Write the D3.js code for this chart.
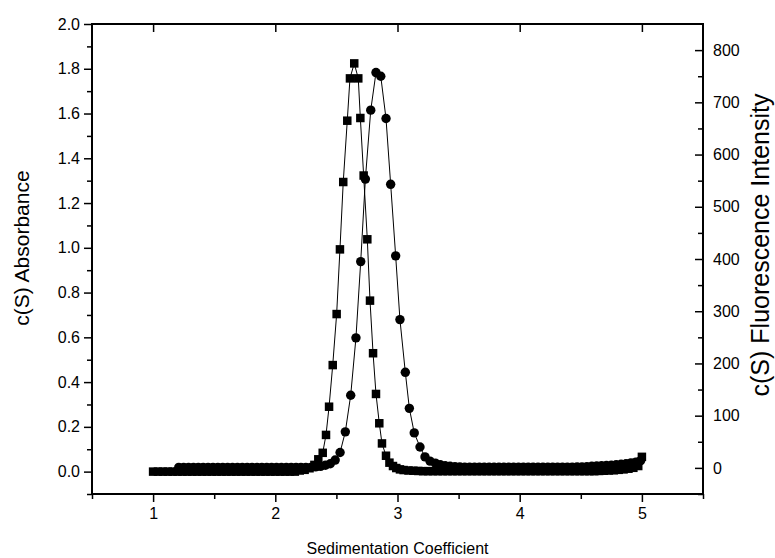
<!DOCTYPE html>
<html><head><meta charset="utf-8">
<script src="https://cdn.jsdelivr.net/npm/d3@7"></script>
<style>
html,body{margin:0;padding:0;background:#fff;}
svg{display:block;font-family:"Liberation Sans",Arial,Helvetica,sans-serif;}
</style></head>
<body><svg id="c" width="775" height="558"></svg>
<script>
// ---- data ----
const xTicks = [1, 2, 3, 4, 5];
const xMinor = [0.5, 1.5, 2.5, 3.5, 4.5, 5.5];
const leftTicks = [0, 0.2, 0.4, 0.6, 0.8, 1.0, 1.2, 1.4, 1.6, 1.8, 2.0];
const leftMinor = [-0.1, 0.1, 0.3, 0.5, 0.7, 0.9, 1.1, 1.3, 1.5, 1.7, 1.9];
const rightTicks = [0, 100, 200, 300, 400, 500, 600, 700, 800];
const rightMinor = [-50, 50, 150, 250, 350, 450, 550, 650, 750];

// c(S) absorbance (squares, left axis)
const absS = [
 1.00,1.04,1.08,1.12,1.16,1.20,1.24,1.28,1.32,1.36,1.40,1.44,1.48,1.52,1.56,1.60,1.64,1.68,1.72,1.76,
 1.80,1.84,1.88,1.92,1.96,2.00,2.04,2.08,2.12,2.16,2.20,2.24,2.28,2.32,
 2.352,2.388,2.415,2.440,2.470,2.502,2.529,2.556,2.589,2.611,2.646,2.679,2.696,2.723,2.753,2.775,
 2.800,2.824,2.851,2.873,2.906,2.934,2.963,2.990,3.020,3.050,
 3.09,3.13,3.17,3.21,3.25,3.29,3.33,3.37,3.41,3.45,3.49,3.53,3.57,3.61,3.65,3.69,3.73,3.77,3.81,3.85,
 3.89,3.93,3.97,4.01,4.05,4.09,4.13,4.17,4.21,4.25,4.29,4.33,4.37,4.41,4.45,4.49,4.53,4.57,4.61,4.65,
 4.69,4.73,4.77,4.81,4.85,4.89,4.93,4.97,5.00];
const absA = [
 0,0,0,0,0,0,0,0,0,0,0,0,0,0,0,0,0,0,0,0,
 0,0,0,0,0,0,0,0,0,0,0.005,0.008,0.015,0.03,
 0.055,0.084,0.164,0.290,0.476,0.704,0.993,1.294,1.568,1.757,1.824,1.757,1.580,1.323,1.038,0.764,
 0.529,0.347,0.216,0.126,0.071,0.040,0.025,0.016,0.010,0.007,
 0.005,0.004,0.003,0.002,0.002,0.002,0.002,0.002,0.002,0.002,0.002,0.002,0.002,0.002,0.002,0.002,0.002,0.002,0.002,0.002,
 0.002,0.002,0.002,0.002,0.002,0.002,0.002,0.002,0.002,0.002,0.002,0.002,0.002,0.002,0.002,0.002,0.002,0.002,0.002,0.003,
 0.004,0.005,0.006,0.008,0.010,0.013,0.017,0.025,0.066];

// c(S) fluorescence intensity (circles, right axis)
const fluS = [
 1.21,1.25,1.29,1.33,1.37,1.41,1.45,1.49,1.53,1.57,1.61,1.65,1.69,1.73,1.77,1.81,1.85,1.89,1.93,1.97,
 2.01,2.05,2.09,2.13,2.17,2.21,2.25,2.29,2.33,2.37,2.41,2.45,
 2.49,2.53,2.573,2.617,2.660,2.699,2.737,2.781,2.824,2.863,2.906,2.944,2.985,3.020,3.064,3.097,3.137,3.184,3.225,3.266,
 3.31,3.35,3.39,3.43,3.47,3.51,3.55,3.59,3.63,3.67,3.71,3.75,3.79,3.83,3.87,3.91,3.95,3.99,4.03,4.07,
 4.11,4.15,4.19,4.23,4.27,4.31,4.35,4.39,4.43,4.47,4.51,4.55,4.59,4.63,4.67,4.71,4.75,4.79,4.83,4.87,
 4.91,4.95,4.99];
const fluV = [
 1,1,1,1,1,1,1,1,1,1,1,1,1,1,1,1,1,1,1,1,
 1,1,1,1,1,1,1,1,2,3,5,8,
 15,29.5,69,139,249,395,553,685,757,750,669,543,406,284,183,114,67,40,21,13,
 9,6,4,3,2.5,2,1.5,1.5,1.5,1.5,1.5,1.5,1.5,1.5,1.5,1.5,1.5,1.5,1.5,1.5,
 1.5,1.5,1.5,1.5,1.5,1.5,1.5,1.5,1.5,2,2,2.5,3,3.5,4,4.5,5,6,7,8,
 9.5,11,14];

// ---- layout ----
const L = 92, R = 703, T = 24, B = 494;
const svg = d3.select("#c");
const x = d3.scaleLinear().domain([0.5, 5.5]).range([L, R]);
const yL = d3.scaleLinear().domain([-0.1, 2.0]).range([B, T]);
const yR = d3.scaleLinear().domain([-50, 850]).range([B, T]);

const absData = absS.map((s, i) => ({s, v: absA[i]}));
const fluData = fluS.map((s, i) => ({s, v: fluV[i]}));

function styleAxis(g, labels) {
  g.select(".domain").remove();
  g.selectAll(".tick line").attr("stroke", "#000").attr("stroke-width", 1.5);
  g.selectAll(".tick text").attr("fill", "#000").style("font-size", "16px");
  if (!labels) g.selectAll(".tick text").remove();
}

// bottom
svg.append("g").attr("transform", `translate(0,${B})`)
  .call(d3.axisBottom(x).tickValues(xTicks).tickSize(8).tickPadding(6).tickFormat(d3.format("d")))
  .call(g => styleAxis(g, true));
svg.append("g").attr("transform", `translate(0,${B})`)
  .call(d3.axisBottom(x).tickValues(xMinor).tickSize(5))
  .call(g => styleAxis(g, false));
// top (inward)
svg.append("g").attr("transform", `translate(0,${T})`)
  .call(d3.axisTop(x).tickValues(xTicks).tickSize(-8))
  .call(g => styleAxis(g, false));
// left
svg.append("g").attr("transform", `translate(${L},0)`)
  .call(d3.axisLeft(yL).tickValues(leftTicks).tickSize(8).tickPadding(4).tickFormat(d3.format(".1f")))
  .call(g => styleAxis(g, true));
svg.append("g").attr("transform", `translate(${L},0)`)
  .call(d3.axisLeft(yL).tickValues(leftMinor).tickSize(5))
  .call(g => styleAxis(g, false));
// right (ticks inward)
svg.append("g").attr("transform", `translate(${R},0)`)
  .call(d3.axisRight(yR).tickValues(rightTicks).tickSize(-8).tickPadding(10).tickFormat(d3.format("d")))
  .call(g => styleAxis(g, true));
svg.append("g").attr("transform", `translate(${R},0)`)
  .call(d3.axisRight(yR).tickValues(rightMinor).tickSize(-5))
  .call(g => styleAxis(g, false));

// frame
svg.append("rect").attr("x", L).attr("y", T).attr("width", R - L).attr("height", B - T)
  .attr("fill", "none").attr("stroke", "#000").attr("stroke-width", 2);

// lines
const lineA = d3.line().x(d => x(d.s)).y(d => yL(d.v));
const lineF = d3.line().x(d => x(d.s)).y(d => yR(d.v));
svg.append("path").datum(absData).attr("d", lineA).attr("fill", "none").attr("stroke", "#000").attr("stroke-width", 1);
svg.append("path").datum(fluData).attr("d", lineF).attr("fill", "none").attr("stroke", "#000").attr("stroke-width", 1);

// markers
const sq = 8.5;
svg.append("g").selectAll("rect").data(absData).join("rect")
  .attr("x", d => x(d.s) - sq / 2).attr("y", d => yL(d.v) - sq / 2)
  .attr("width", sq).attr("height", sq).attr("fill", "#000");
svg.append("g").selectAll("circle").data(fluData).join("circle")
  .attr("cx", d => x(d.s)).attr("cy", d => yR(d.v)).attr("r", 4.7).attr("fill", "#000");

// titles
svg.append("text").attr("x", (L + R) / 2).attr("y", 554).attr("text-anchor", "middle")
  .style("font-size", "16px").text("Sedimentation Coefficient");
svg.append("text").attr("transform", "translate(29,248) rotate(-90)").attr("text-anchor", "middle")
  .style("font-size", "21px").text("c(S) Absorbance");
svg.append("text").attr("transform", "translate(769,245) rotate(-90)").attr("text-anchor", "middle")
  .style("font-size", "25px").text("c(S) Fluorescence Intensity");
</script></body></html>
